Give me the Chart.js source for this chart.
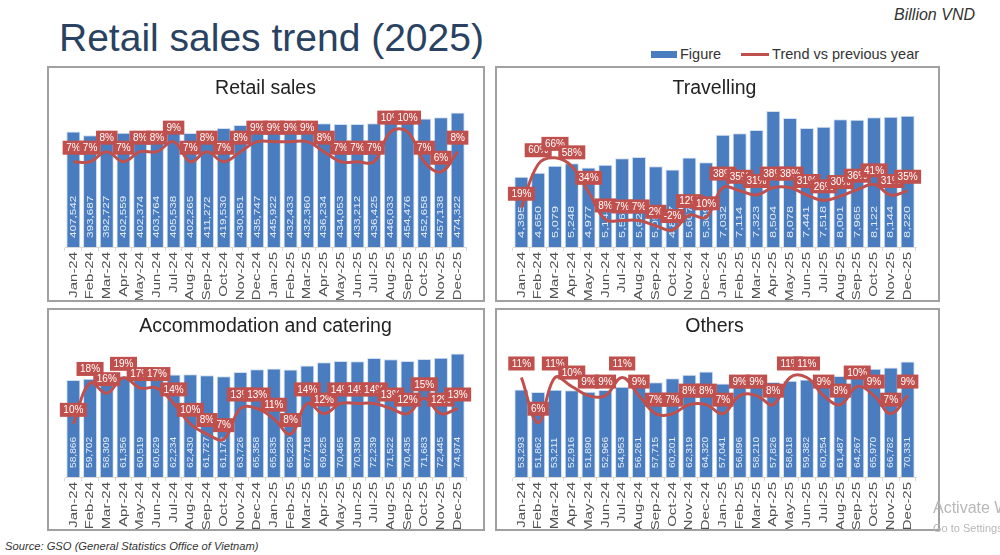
<!DOCTYPE html>
<html>
<head>
<meta charset="utf-8">
<script src="https://cdn.jsdelivr.net/npm/chart.js@4.4.1/dist/chart.umd.min.js"></script>
<style>
    body { margin: 0; background: #fff; font-family: "Liberation Sans", Arial, sans-serif; }
    #page { position: relative; width: 1000px; height: 555px; overflow: hidden; }
    .panel { position: absolute; border: 2px solid #a0a0a0; box-sizing: border-box; background: #fff; }
    .panel canvas { display: block; }
    .txt { position: absolute; white-space: nowrap; line-height: 1; }
    #title { left: 59px; top: 18px; font-size: 39px; color: #2a4262; }
    #unit { right: 25px; top: 7px; font-size: 16px; font-style: italic; color: #333; }
    #legend { left: 651px; top: 46px; font-size: 14.5px; color: #333; }
    #legend span { display: inline-block; vertical-align: middle; }
    .lg-bar { width: 26px; height: 7px; background: #4a7dbf; margin-right: 3px; }
    .lg-line { width: 28px; height: 3px; background: #c0504d; margin-left: 20px; margin-right: 3px; }
    #source { left: 5px; top: 541px; font-size: 11.2px; font-style: italic; color: #333; }
    #wm1 { left: 933px; top: 500px; font-size: 16px; color: #b8b8b8; }
    #wm2 { left: 933px; top: 523px; font-size: 11px; color: #b8b8b8; }
</style>
</head>
<body>
<div id="page">
    <div class="txt" id="title">Retail sales trend (2025)</div>
    <div class="txt" id="unit">Billion VND</div>
    <div class="txt" id="legend"><span class="lg-bar"></span><span>Figure</span><span class="lg-line"></span><span>Trend vs previous year</span></div>

    <div class="panel" style="left:47px; top:66px; width:438px; height:236px;"><canvas id="c-retail" width="434" height="232"></canvas></div>
    <div class="panel" style="left:495px; top:66px; width:445px; height:236px;"><canvas id="c-travel" width="441" height="232"></canvas></div>
    <div class="panel" style="left:47px; top:308px; width:438px; height:223px;"><canvas id="c-accom" width="434" height="219"></canvas></div>
    <div class="panel" style="left:495px; top:308px; width:445px; height:223px;"><canvas id="c-other" width="441" height="219"></canvas></div>

    <div class="txt" id="source">Source: GSO (General Statistics Office of Vietnam)</div>
    <div class="txt" id="wm1">Activate Windows</div>
    <div class="txt" id="wm2">Go to Settings to activate Windows.</div>
</div>
<script>
// Data (billion VND, % vs previous year)
const months = [
    "Jan-24", "Feb-24", "Mar-24", "Apr-24", "May-24", "Jun-24",
    "Jul-24", "Aug-24", "Sep-24", "Oct-24", "Nov-24", "Dec-24",
    "Jan-25", "Feb-25", "Mar-25", "Apr-25", "May-25", "Jun-25",
    "Jul-25", "Aug-25", "Sep-25", "Oct-25", "Nov-25", "Dec-25"
];

const retailFigure = [407542, 393687, 392727, 402559, 402374, 403764, 405538, 402265, 411272, 419530, 430351, 435747,
                      445922, 432433, 432360, 436234, 434053, 433212, 436425, 446033, 454476, 452658, 457138, 474322];
const retailTrend = [7, 7, 8, 7, 8, 8, 9, 7, 8, 7, 8, 9, 9, 9, 9, 8, 7, 7, 7, 10, 10, 7, 6, 8];

const travelFigure = [4395, 4650, 5079, 5248, 4977, 5143, 5561, 5626, 5054, 4857, 5607, 5309,
                      7032, 7114, 7323, 8504, 8078, 7441, 7518, 8001, 7965, 8122, 8144, 8220];
const travelTrend = [19, 60, 66, 58, 34, 8, 7, 7, 2, -2, 12, 10, 38, 35, 31, 38, 38, 31, 26, 30, 36, 41, 31, 35];

const accomFigure = [58866, 59702, 58309, 61356, 60519, 60629, 62234, 62430, 61727, 61178, 63726, 65358,
                     65835, 65229, 67718, 69625, 70465, 70330, 72239, 71522, 70435, 71683, 72445, 74974];
const accomTrend = [10, 18, 16, 19, 17, 17, 14, 10, 8, 7, 13, 13, 11, 8, 14, 12, 14, 14, 14, 13, 12, 15, 12, 13];

const otherFigure = [53293, 51862, 53211, 52916, 51890, 52966, 54953, 56261, 57715, 60201, 62319, 64320,
                     57041, 56896, 58210, 57826, 58618, 59382, 60254, 61487, 64267, 65970, 66782, 70331];
const otherTrend = [11, 6, 11, 10, 9, 9, 11, 9, 7, 7, 8, 8, 7, 9, 9, 8, 11, 11, 9, 8, 10, 9, 7, 9];

const BLUE = "#4a7dbf";
const RED = "#c0504d";
const FONT = '"Liberation Sans", Arial, sans-serif';

Chart.defaults.font.family = FONT;

// vertical text, stretched along its length like the slide's
function vText(ctx, text, x, y, stretch, align) {
    ctx.save();
    ctx.translate(x, y);
    ctx.rotate(-Math.PI / 2);
    ctx.scale(stretch, 1);
    ctx.textAlign = align;
    ctx.textBaseline = "middle";
    ctx.fillText(text, 0, 0);
    ctx.restore();
}

// bar values inside the bars, month labels under the axis, line values in red boxes
const labelPlugin = {
    id: 'valueLabels',
    afterDatasetDraw(chart, args, opts) {
        if (args.meta.type !== 'bar') return;
        const ctx = chart.ctx;
        const values = chart.data.datasets[args.index].data;
        ctx.save();
        ctx.fillStyle = "#e4ecf7";
        ctx.font = opts.barFont + "px " + FONT;
        args.meta.data.forEach((bar, i) => {
            vText(ctx, values[i].toLocaleString("en-US"), bar.x, bar.base - 9, opts.barStretch, "left");
        });
        ctx.restore();
    },
    afterDatasetsDraw(chart) {
        const ctx = chart.ctx;
        const meta = chart.getDatasetMeta(0);
        const values = chart.data.datasets[0].data;
        ctx.save();
        ctx.font = "10px " + FONT;
        ctx.textAlign = "center";
        ctx.textBaseline = "middle";
        meta.data.forEach((pt, i) => {
            const text = values[i] + "%";
            const w = ctx.measureText(text).width + 7;
            const h = 14;
            const cy = pt.y - 14;
            ctx.fillStyle = RED;
            ctx.fillRect(pt.x - w / 2, cy - h / 2, w, h);
            ctx.fillStyle = "#fff";
            ctx.fillText(text, pt.x, cy + 0.5);
        });
        ctx.restore();
    },
    afterDraw(chart) {
        const ctx = chart.ctx;
        const x = chart.scales.x;
        ctx.save();
        ctx.fillStyle = "#505050";
        ctx.font = "11.5px " + FONT;
        chart.data.labels.forEach((lab, i) => {
            vText(ctx, lab, x.getPixelForTick(i), x.top + 5, 1.3, "right");
        });
        ctx.restore();
    }
};

function makePanel(id, title, figure, trend, cfg) {
    return new Chart(document.getElementById(id), {
        data: {
            labels: months,
            datasets: [
                {
                    type: 'line', data: trend, yAxisID: 'y1',
                    borderColor: RED, borderWidth: 3, tension: 0.4,
                    pointRadius: 0, order: 0
                },
                {
                    type: 'bar', data: figure, yAxisID: 'y',
                    backgroundColor: BLUE, borderColor: "#d3e0f0", borderWidth: 1,
                    barPercentage: 0.84, categoryPercentage: 1, order: 1
                }
            ]
        },
        options: {
            responsive: false,
            animation: false,
            layout: { padding: { left: cfg.padL, right: cfg.padR, top: 0, bottom: 0 } },
            plugins: {
                legend: { display: false },
                tooltip: { enabled: false },
                title: {
                    display: true, text: title, color: "#222",
                    font: { size: 19.5, weight: 'normal', lineHeight: 1 },
                    padding: { top: cfg.tTop, bottom: cfg.tBot }
                },
                valueLabels: { barFont: cfg.barFont, barStretch: cfg.barStretch }
            },
            scales: {
                x: {
                    ticks: { display: false },
                    grid: { display: true, drawOnChartArea: false, tickLength: 4, color: "#d9d9d9" },
                    border: { color: "#d9d9d9" },
                    afterFit: (s) => { s.height = cfg.xH; }
                },
                y: { display: false, min: 0, max: cfg.yMax },
                y1: { display: false, min: cfg.tMin, max: cfg.tMax }
            }
        },
        plugins: [labelPlugin]
    });
}

makePanel("c-retail", "Retail sales", retailFigure, retailTrend,
    { padL: 16, padR: 17, tTop: 11, tBot: 1, xH: 53, barFont: 9, barStretch: 1.3,
      yMax: 520000, tMin: -1.5, tMax: 13.2 });
makePanel("c-travel", "Travelling", travelFigure, travelTrend,
    { padL: 16, padR: 22, tTop: 11, tBot: 1, xH: 53, barFont: 9.5, barStretch: 1.35,
      yMax: 9230, tMin: -18, tMax: 121 });
makePanel("c-accom", "Accommodation and catering", accomFigure, accomTrend,
    { padL: 16, padR: 17, tTop: 7, tBot: 3, xH: 52, barFont: 8.5, barStretch: 1.2,
      yMax: 83500, tMin: -0.4, tMax: 26.5 });
makePanel("c-other", "Others", otherFigure, otherTrend,
    { padL: 16, padR: 22, tTop: 7, tBot: 3, xH: 52, barFont: 8.5, barStretch: 1.2,
      yMax: 83800, tMin: 0, tMax: 15.2 });
</script>
</body>
</html>
